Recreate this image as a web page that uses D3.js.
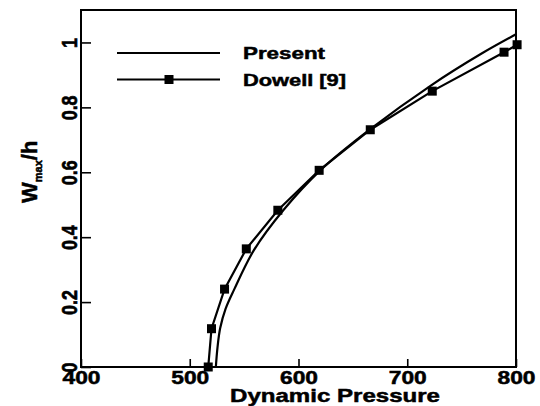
<!DOCTYPE html>
<html lang="en">
<head>
  <meta charset="UTF-8">
  <title>Wmax/h vs Dynamic Pressure</title>
  <style>
    body {
      margin: 0;
      background: #fff;
    }
    svg text {
      font-family: "Liberation Sans", Arial, sans-serif;
      font-weight: bold;
      fill: #000;
      stroke: #000;
      stroke-width: 0.5px;
    }
  </style>
</head>
<body>
  <svg></svg>
</body>
<script src="https://cdn.jsdelivr.net/npm/d3@7"></script>
<script>
  var width = 540
  var height = 406
  var margin = {top: 10, right: 24, bottom: 39, left: 81}

  // values
  var presentX = [524, 525.5, 528, 533, 541, 559, 586, 620, 666, 722, 768, 800]
  var presentY = [0, 0.06, 0.12, 0.18, 0.24, 0.36, 0.483, 0.606, 0.733, 0.868, 0.965, 1.025]

  var dowellX = [517, 520, 532, 552, 581, 619, 666, 723, 789, 801]
  var dowellY = [0, 0.118, 0.24, 0.364, 0.483, 0.606, 0.731, 0.85, 0.97, 0.993]

  var xTicks = [400, 500, 600, 700, 800]
  var yTicks = [0, 0.2, 0.4, 0.6, 0.8, 1]
  var seriesNames = ['Present', 'Dowell [9]']

  var svg = d3.select('svg')
    .attr('width', width)
    .attr('height', height)

  var x = d3.scaleLinear().domain([400, 800]).range([margin.left, width - margin.right])
  var y = d3.scaleLinear().domain([0, 1.1]).range([height - margin.bottom, margin.top])

  var present = presentX.map((d, i) => [d, presentY[i]])
  var dowell = dowellX.map((d, i) => [d, dowellY[i]])

  // x axis, ticks pointing inward
  var xAxis = svg.append('g')
    .attr('transform', `translate(0,${y(0)})`)
    .call(d3.axisBottom(x).tickValues(xTicks).tickSizeInner(-8).tickSizeOuter(0))
  xAxis.select('.domain').remove()
  xAxis.selectAll('line').attr('stroke', '#000').attr('stroke-width', 1.6)
  xAxis.selectAll('text')
    .attr('y', 17)
    .attr('dy', 0)
    .attr('textLength', 38)
    .attr('lengthAdjust', 'spacingAndGlyphs')
    .style('font-size', '18px')
    .style('font-family', '"Liberation Sans", Arial, sans-serif')
    .style('font-weight', 'bold')

  // y axis, ticks inward, labels rotated
  var yAxis = svg.append('g')
    .attr('transform', `translate(${x(400)},0)`)
    .call(d3.axisLeft(y).tickValues(yTicks).tickSizeInner(-10).tickSizeOuter(0).tickFormat(d3.format('')))
  yAxis.select('.domain').remove()
  yAxis.selectAll('line').attr('stroke', '#000').attr('stroke-width', 1.6)
  yAxis.selectAll('text')
    .attr('x', 0)
    .attr('dy', 0)
    .attr('text-anchor', 'middle')
    .attr('transform', 'translate(-4,0) rotate(-90) scale(1.05,1.28)')
    .style('font-size', '17px')
    .style('font-family', '"Liberation Sans", Arial, sans-serif')
    .style('font-weight', 'bold')

  // frame
  svg.append('rect')
    .attr('x', x(400))
    .attr('y', margin.top)
    .attr('width', x(800) - x(400))
    .attr('height', y(0) - margin.top)
    .attr('fill', 'none')
    .attr('stroke', '#000')
    .attr('stroke-width', 2)

  svg.append('path')
    .datum(present)
    .attr('d', d3.line().x(d => x(d[0])).y(d => y(d[1])).curve(d3.curveCatmullRom.alpha(0.5)))
    .attr('fill', 'none')
    .attr('stroke', '#000')
    .attr('stroke-width', 2.2)

  svg.append('path')
    .datum(dowell)
    .attr('d', d3.line().x(d => x(d[0])).y(d => y(d[1])))
    .attr('fill', 'none')
    .attr('stroke', '#000')
    .attr('stroke-width', 2.2)

  var sq = 9
  svg.selectAll('rect.mark')
    .data(dowell)
    .enter()
    .append('rect')
    .attr('class', 'mark')
    .attr('x', d => x(d[0]) - sq / 2)
    .attr('y', d => y(d[1]) - sq / 2)
    .attr('width', sq)
    .attr('height', sq)
    .attr('fill', '#000')

  // legend
  var legendWidths = [82, 103]
  var legend = svg.append('g')
  seriesNames.forEach((name, i) => {
    var ly = 53 + i * 26.5
    legend.append('line')
      .attr('x1', 117).attr('x2', 220)
      .attr('y1', ly).attr('y2', ly)
      .attr('stroke', '#000')
      .attr('stroke-width', 2)
    if (i == 1) {
      legend.append('rect')
        .attr('x', 169 - sq / 2).attr('y', ly - sq / 2)
        .attr('width', sq).attr('height', sq)
        .attr('fill', '#000')
    }
    legend.append('text')
      .attr('x', 243)
      .attr('y', ly + 6)
      .attr('textLength', legendWidths[i])
      .attr('lengthAdjust', 'spacingAndGlyphs')
      .style('font-size', '17px')
      .text(name)
  })

  // axis titles
  svg.append('text')
    .attr('x', 230)
    .attr('y', 402)
    .attr('textLength', 210)
    .attr('lengthAdjust', 'spacingAndGlyphs')
    .style('font-size', '19px')
    .text('Dynamic Pressure')

  var yTitle = svg.append('text')
    .attr('transform', 'translate(37,203) rotate(-90)')
    .style('font-size', '22px')
  yTitle.append('tspan').text('W')
  yTitle.append('tspan').attr('dy', 5).style('font-size', '11px').text('max')
  yTitle.append('tspan').attr('dy', -5).text('/h')
</script>
</html>
